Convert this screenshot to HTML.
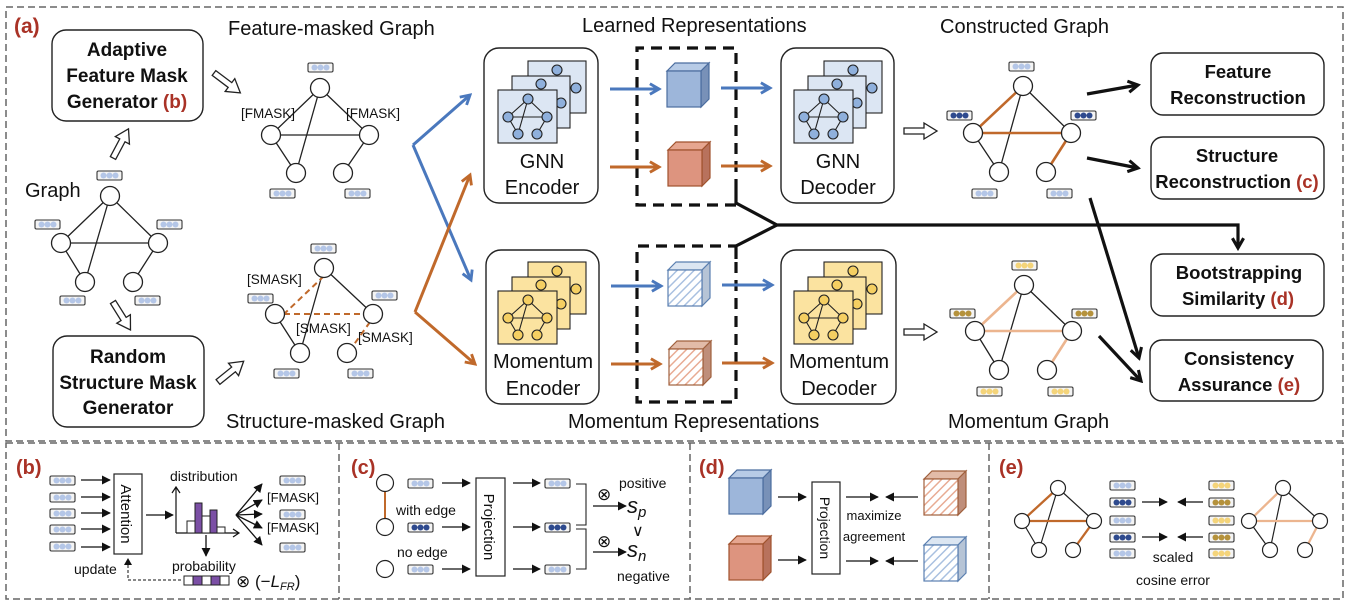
<!DOCTYPE html>
<html><head><meta charset="utf-8"><style>
html,body{margin:0;padding:0;background:#fff}
svg{display:block}
text{font-family:"Liberation Sans",sans-serif;fill:#111}
.b{font-weight:bold}
.r{fill:#a93226;font-weight:bold}
</style></head><body>
<svg width="1352" height="608" viewBox="0 0 1352 608" xmlns="http://www.w3.org/2000/svg">
<defs>
<marker id="mk" viewBox="0 0 10 10" refX="9" refY="5" markerWidth="9" markerHeight="9" markerUnits="userSpaceOnUse" orient="auto"><path d="M0,0L10,5L0,10z" fill="#111"/></marker>
<marker id="mT" viewBox="0 0 10 10" refX="8" refY="5" markerWidth="14" markerHeight="14" markerUnits="userSpaceOnUse" orient="auto"><path d="M1,1L8,5L1,9" fill="none" stroke="#111" stroke-width="2.2"/></marker>
<marker id="mB" viewBox="0 0 10 10" refX="8" refY="5" markerWidth="13" markerHeight="13" markerUnits="userSpaceOnUse" orient="auto"><path d="M1,1L8,5L1,9" fill="none" stroke="#4a78bd" stroke-width="2.2"/></marker>
<marker id="mO" viewBox="0 0 10 10" refX="8" refY="5" markerWidth="13" markerHeight="13" markerUnits="userSpaceOnUse" orient="auto"><path d="M1,1L8,5L1,9" fill="none" stroke="#c0692b" stroke-width="2.2"/></marker>
<pattern id="hB" width="6" height="6" patternUnits="userSpaceOnUse" patternTransform="rotate(45)"><rect width="6" height="6" fill="#fff"/><line x1="0" y1="0" x2="0" y2="6" stroke="#a9c0e0" stroke-width="3"/></pattern>
<pattern id="hO" width="6" height="6" patternUnits="userSpaceOnUse" patternTransform="rotate(45)"><rect width="6" height="6" fill="#fff"/><line x1="0" y1="0" x2="0" y2="6" stroke="#e8ab93" stroke-width="3"/></pattern>
<g id="fL"><rect width="25" height="9" rx="1.5" fill="#f4f4f4" stroke="#333" stroke-width="1.1"/><circle cx="6.5" cy="4.5" r="3" fill="#b4c6e7"/><circle cx="12.5" cy="4.5" r="3" fill="#b4c6e7"/><circle cx="18.5" cy="4.5" r="3" fill="#b4c6e7"/></g>
<g id="fD"><rect width="25" height="9" rx="1.5" fill="#f4f4f4" stroke="#333" stroke-width="1.1"/><circle cx="6.5" cy="4.5" r="3" fill="#2e4a8e"/><circle cx="12.5" cy="4.5" r="3" fill="#2e4a8e"/><circle cx="18.5" cy="4.5" r="3" fill="#2e4a8e"/></g>
<g id="fY"><rect width="25" height="9" rx="1.5" fill="#f4f4f4" stroke="#333" stroke-width="1.1"/><circle cx="6.5" cy="4.5" r="3" fill="#f4d47a"/><circle cx="12.5" cy="4.5" r="3" fill="#f4d47a"/><circle cx="18.5" cy="4.5" r="3" fill="#f4d47a"/></g>
<g id="fG"><rect width="25" height="9" rx="1.5" fill="#f4f4f4" stroke="#333" stroke-width="1.1"/><circle cx="6.5" cy="4.5" r="3" fill="#b5923c"/><circle cx="12.5" cy="4.5" r="3" fill="#b5923c"/><circle cx="18.5" cy="4.5" r="3" fill="#b5923c"/></g>
<g id="cB" stroke="#4b6d9f" stroke-width="1.2"><polygon points="0,0 8,-8 42,-8 34,0" fill="#b7cbe6"/><polygon points="34,0 42,-8 42,28 34,36" fill="#7891b8"/><rect width="34" height="36" fill="#9db6da"/></g>
<g id="cO" stroke="#a0522d" stroke-width="1.2"><polygon points="0,0 8,-8 42,-8 34,0" fill="#e6a690"/><polygon points="34,0 42,-8 42,28 34,36" fill="#b8725d"/><rect width="34" height="36" fill="#dd947f"/></g>
<g id="cBH" stroke="#5a7fb0" stroke-width="1.2"><polygon points="0,0 8,-8 42,-8 34,0" fill="#dce6f2"/><polygon points="34,0 42,-8 42,28 34,36" fill="#b6c4d6"/><rect width="34" height="36" fill="url(#hB)"/></g>
<g id="cOH" stroke="#a0603d" stroke-width="1.2"><polygon points="0,0 8,-8 42,-8 34,0" fill="#e2bba8"/><polygon points="34,0 42,-8 42,28 34,36" fill="#bf8e7a"/><rect width="34" height="36" fill="url(#hO)"/></g>
<g id="iB" stroke="#222" stroke-width="1.1">
 <rect x="30" y="-29" width="58" height="52" fill="#dce6f3"/>
 <circle cx="59" cy="-20" r="5" fill="#8fb0dc"/><circle cx="78" cy="-2" r="5" fill="#8fb0dc"/>
 <rect x="14" y="-14" width="58" height="52" fill="#dce6f3"/>
 <circle cx="43" cy="-6" r="5" fill="#8fb0dc"/><circle cx="63" cy="13" r="5" fill="#8fb0dc"/>
 <rect x="0" y="0" width="59" height="53" fill="#dce6f3"/>
 <path d="M30,9L10,27M30,9L49,27M10,27L49,27M30,9L20,44M10,27L20,44M49,27L39,44" fill="none"/>
 <g fill="#8fb0dc"><circle cx="30" cy="9" r="5"/><circle cx="10" cy="27" r="5"/><circle cx="49" cy="27" r="5"/><circle cx="20" cy="44" r="5"/><circle cx="39" cy="44" r="5"/></g>
</g>
<g id="iY" stroke="#222" stroke-width="1.1">
 <rect x="30" y="-29" width="58" height="52" fill="#fbe3a0"/>
 <circle cx="59" cy="-20" r="5" fill="#f5cf62"/><circle cx="78" cy="-2" r="5" fill="#f5cf62"/>
 <rect x="14" y="-14" width="58" height="52" fill="#fbe3a0"/>
 <circle cx="43" cy="-6" r="5" fill="#f5cf62"/><circle cx="63" cy="13" r="5" fill="#f5cf62"/>
 <rect x="0" y="0" width="59" height="53" fill="#fbe3a0"/>
 <path d="M30,9L10,27M30,9L49,27M10,27L49,27M30,9L20,44M10,27L20,44M49,27L39,44" fill="none"/>
 <g fill="#f5cf62"><circle cx="30" cy="9" r="5"/><circle cx="10" cy="27" r="5"/><circle cx="49" cy="27" r="5"/><circle cx="20" cy="44" r="5"/><circle cx="39" cy="44" r="5"/></g>
</g>
<path id="ha" d="M0,-3L20,-3L20,-8L33,0L20,8L20,3L0,3z" fill="#fff" stroke="#222" stroke-width="1.3"/>
</defs>

<g fill="none" stroke="#666" stroke-width="1.5" stroke-dasharray="7,4">
<rect x="6" y="7" width="1337" height="434"/>
<rect x="6" y="443" width="1337" height="156"/>
<line x1="339" y1="443" x2="339" y2="599"/>
<line x1="690" y1="443" x2="690" y2="599"/>
<line x1="989" y1="443" x2="989" y2="599"/>
</g>

<text x="14" y="33" class="r" font-size="21">(a)</text>

<rect x="52" y="30" width="151" height="91" rx="14" fill="#fff" stroke="#222" stroke-width="1.4"/>
<g font-size="19" text-anchor="middle"><text x="127" y="56" class="b">Adaptive</text><text x="127" y="82" class="b">Feature Mask</text><text x="127" y="108" class="b">Generator <tspan fill="#a93226">(b)</tspan></text></g>
<rect x="53" y="336" width="151" height="91" rx="14" fill="#fff" stroke="#222" stroke-width="1.4"/>
<g font-size="19" text-anchor="middle"><text x="128" y="363" class="b">Random</text><text x="128" y="389" class="b">Structure Mask</text><text x="128" y="414" class="b">Generator</text></g>

<use href="#ha" transform="translate(113,158) rotate(-62)"/>
<use href="#ha" transform="translate(113,302) rotate(58)"/>
<use href="#ha" transform="translate(214,73) rotate(37)"/>
<use href="#ha" transform="translate(218,382) rotate(-39)"/>
<use href="#ha" transform="translate(904,131)"/>
<use href="#ha" transform="translate(904,332)"/>

<text x="25" y="197" font-size="20">Graph</text>
<g stroke="#222" stroke-width="1.3" fill="none"><path d="M110,196L61,243M110,196L158,243M61,243L158,243M110,196L85,282M61,243L85,282M158,243L133,282"/></g>
<g fill="#fff" stroke="#222" stroke-width="1.3"><circle cx="110" cy="196" r="9.5"/><circle cx="61" cy="243" r="9.5"/><circle cx="158" cy="243" r="9.5"/><circle cx="85" cy="282" r="9.5"/><circle cx="133" cy="282" r="9.5"/></g>
<use href="#fL" x="97" y="171"/><use href="#fL" x="35" y="220"/><use href="#fL" x="157" y="220"/><use href="#fL" x="60" y="296"/><use href="#fL" x="135" y="296"/>

<text x="228" y="35" font-size="20">Feature-masked Graph</text>
<g stroke="#222" stroke-width="1.3" fill="none"><path d="M320,88L271,135M320,88L369,135M271,135L369,135M320,88L296,173M271,135L296,173M369,135L343,173"/></g>
<g fill="#fff" stroke="#222" stroke-width="1.3"><circle cx="320" cy="88" r="9.5"/><circle cx="271" cy="135" r="9.5"/><circle cx="369" cy="135" r="9.5"/><circle cx="296" cy="173" r="9.5"/><circle cx="343" cy="173" r="9.5"/></g>
<use href="#fL" x="308" y="63"/><use href="#fL" x="270" y="189"/><use href="#fL" x="345" y="189"/>
<text x="241" y="118" font-size="13.5">[FMASK]</text><text x="346" y="118" font-size="13.5">[FMASK]</text>

<g stroke="#222" stroke-width="1.3" fill="none"><path d="M324,268L300,353M324,268L373,314M275,314L300,353"/></g>
<g stroke="#c0692b" stroke-width="2" stroke-dasharray="6,4" fill="none"><path d="M324,276L284,314M284,314L364,314M370,322L350,350"/></g>
<g fill="#fff" stroke="#222" stroke-width="1.3"><circle cx="324" cy="268" r="9.5"/><circle cx="275" cy="314" r="9.5"/><circle cx="373" cy="314" r="9.5"/><circle cx="300" cy="353" r="9.5"/><circle cx="347" cy="353" r="9.5"/></g>
<use href="#fL" x="311" y="244"/><use href="#fL" x="248" y="294"/><use href="#fL" x="372" y="291"/><use href="#fL" x="274" y="369"/><use href="#fL" x="348" y="369"/>
<text x="247" y="284" font-size="13.5">[SMASK]</text><text x="296" y="333" font-size="13.5">[SMASK]</text><text x="358" y="342" font-size="13.5">[SMASK]</text>
<text x="226" y="428" font-size="20">Structure-masked Graph</text>

<g fill="none" stroke-width="3">
<path d="M413,145L471,280" stroke="#4a78bd" marker-end="url(#mB)"/>
<path d="M413,145L470,95" stroke="#4a78bd" marker-end="url(#mB)"/>
<path d="M415,312L475,364" stroke="#c0692b" marker-end="url(#mO)"/>
<path d="M415,312L470,175" stroke="#c0692b" marker-end="url(#mO)"/>
</g>

<rect x="484" y="48" width="114" height="155" rx="15" fill="#fff" stroke="#222" stroke-width="1.4"/>
<rect x="486" y="250" width="113" height="154" rx="15" fill="#fff" stroke="#222" stroke-width="1.4"/>
<rect x="781" y="48" width="113" height="155" rx="15" fill="#fff" stroke="#222" stroke-width="1.4"/>
<rect x="781" y="250" width="115" height="154" rx="15" fill="#fff" stroke="#222" stroke-width="1.4"/>
<use href="#iB" x="498" y="90"/><use href="#iB" x="794" y="90"/>
<use href="#iY" x="498" y="291"/><use href="#iY" x="794" y="291"/>
<g font-size="20" text-anchor="middle">
<text x="542" y="168">GNN</text><text x="542" y="194">Encoder</text>
<text x="543" y="368">Momentum</text><text x="543" y="395">Encoder</text>
<text x="838" y="168">GNN</text><text x="838" y="194">Decoder</text>
<text x="839" y="368">Momentum</text><text x="839" y="395">Decoder</text>
</g>

<text x="582" y="32" font-size="20">Learned Representations</text>
<text x="568" y="428" font-size="20">Momentum Representations</text>

<g fill="none" stroke="#111" stroke-width="3.2">
<path d="M736,190L736,48L637,48L637,205L736,205" stroke-dasharray="11,7"/>
<path d="M736,262L736,402L637,402L637,246L736,246" stroke-dasharray="11,7"/>
<path d="M736,190L736,203L777,225L1238,225L1238,248" marker-end="url(#mT)"/>
<path d="M736,259L736,246L777,225"/>
</g>

<use href="#cB" x="667" y="71"/><use href="#cO" x="668" y="150"/>
<use href="#cBH" x="668" y="270"/><use href="#cOH" x="669" y="349"/>
<g fill="none" stroke-width="3">
<path d="M610,89L659,89" stroke="#4a78bd" marker-end="url(#mB)"/>
<path d="M721,88L770,88" stroke="#4a78bd" marker-end="url(#mB)"/>
<path d="M610,167L659,167" stroke="#c0692b" marker-end="url(#mO)"/>
<path d="M721,166L770,166" stroke="#c0692b" marker-end="url(#mO)"/>
<path d="M611,286L661,286" stroke="#4a78bd" marker-end="url(#mB)"/>
<path d="M722,285L772,285" stroke="#4a78bd" marker-end="url(#mB)"/>
<path d="M611,364L660,364" stroke="#c0692b" marker-end="url(#mO)"/>
<path d="M722,363L772,363" stroke="#c0692b" marker-end="url(#mO)"/>
</g>

<text x="940" y="33" font-size="20">Constructed Graph</text>
<g fill="none" stroke-width="1.3" stroke="#222"><path d="M1023,86L1071,133M1023,86L999,172M973,133L999,172"/></g>
<g fill="none" stroke-width="2.6" stroke="#c0692b"><path d="M1023,86L973,133M973,133L1071,133M1071,133L1046,172"/></g>
<g fill="#fff" stroke="#222" stroke-width="1.3"><circle cx="1023" cy="86" r="9.5"/><circle cx="973" cy="133" r="9.5"/><circle cx="1071" cy="133" r="9.5"/><circle cx="999" cy="172" r="9.5"/><circle cx="1046" cy="172" r="9.5"/></g>
<use href="#fL" x="1009" y="62"/><use href="#fD" x="947" y="111"/><use href="#fD" x="1071" y="111"/><use href="#fL" x="972" y="189"/><use href="#fL" x="1047" y="189"/>

<g fill="none" stroke-width="1.3" stroke="#222"><path d="M1024,285L1072,331M1024,285L999,370M975,331L999,370"/></g>
<g fill="none" stroke-width="2.6" stroke="#ecb58f"><path d="M1024,285L975,331M975,331L1072,331M1072,331L1047,370"/></g>
<g fill="#fff" stroke="#222" stroke-width="1.3"><circle cx="1024" cy="285" r="9.5"/><circle cx="975" cy="331" r="9.5"/><circle cx="1072" cy="331" r="9.5"/><circle cx="999" cy="370" r="9.5"/><circle cx="1047" cy="370" r="9.5"/></g>
<use href="#fY" x="1012" y="261"/><use href="#fG" x="950" y="309"/><use href="#fG" x="1072" y="309"/><use href="#fY" x="977" y="387"/><use href="#fY" x="1048" y="387"/>
<text x="948" y="428" font-size="20">Momentum Graph</text>

<g fill="none" stroke="#111" stroke-width="3.2" marker-end="url(#mT)">
<path d="M1087,94L1138,85"/><path d="M1087,158L1138,168"/><path d="M1090,198L1139,358"/><path d="M1099,336L1141,381"/>
</g>

<g fill="#fff" stroke="#222" stroke-width="1.4">
<rect x="1151" y="53" width="173" height="62" rx="12"/>
<rect x="1151" y="137" width="173" height="62" rx="12"/>
<rect x="1151" y="254" width="173" height="62" rx="12"/>
<rect x="1150" y="340" width="173" height="61" rx="12"/>
</g>
<g font-size="18.5" text-anchor="middle">
<text x="1238" y="78" class="b">Feature</text><text x="1238" y="104" class="b">Reconstruction</text>
<text x="1237" y="162" class="b">Structure</text><text x="1237" y="188" class="b">Reconstruction <tspan fill="#a93226">(c)</tspan></text>
<text x="1239" y="279" class="b">Bootstrapping</text><text x="1238" y="305" class="b">Similarity <tspan fill="#a93226">(d)</tspan></text>
<text x="1239" y="365" class="b">Consistency</text><text x="1239" y="391" class="b">Assurance <tspan fill="#a93226">(e)</tspan></text>
</g>

<text x="16" y="474" class="r" font-size="20">(b)</text>
<use href="#fL" x="50" y="476"/><use href="#fL" x="50" y="493"/><use href="#fL" x="50" y="509"/><use href="#fL" x="50" y="525"/><use href="#fL" x="50" y="542"/>
<g stroke="#111" stroke-width="1.3" marker-end="url(#mk)"><path d="M81,480L110,480"/><path d="M81,497L110,497"/><path d="M81,513L110,513"/><path d="M81,529L110,529"/><path d="M81,547L110,547"/><path d="M146,515L173,515"/><path d="M206,535L206,556"/>
<path d="M236,515L262,484"/><path d="M236,515L262,500"/><path d="M236,515L262,514"/><path d="M236,515L262,528"/><path d="M236,515L262,545"/></g>
<rect x="114" y="474" width="28" height="80" fill="#fff" stroke="#222" stroke-width="1.2"/>
<text transform="translate(121,514) rotate(90)" text-anchor="middle" font-size="15">Attention</text>
<text x="170" y="481" font-size="14">distribution</text>
<g fill="none" stroke="#111" stroke-width="1.2"><path d="M176,533L176,488M172,493L176,487L180,493M176,533L238,533M233,529L239,533L233,537"/></g>
<g stroke="#222" stroke-width="1"><rect x="187" y="521" width="8" height="12" fill="#fff"/><rect x="195" y="503" width="7" height="30" fill="#7b4fa5"/><rect x="202" y="516" width="8" height="17" fill="#fff"/><rect x="210" y="510" width="7" height="23" fill="#7b4fa5"/><rect x="217" y="527" width="8" height="6" fill="#fff"/></g>
<text x="172" y="571" font-size="14">probability</text>
<g stroke="#222" stroke-width="1"><rect x="184" y="576" width="9" height="9" fill="#fff"/><rect x="193" y="576" width="9" height="9" fill="#7b4fa5"/><rect x="202" y="576" width="9" height="9" fill="#fff"/><rect x="211" y="576" width="9" height="9" fill="#7b4fa5"/><rect x="220" y="576" width="9" height="9" fill="#fff"/></g>
<text x="236" y="587" font-size="17" font-family="Liberation Serif">⊗ (−<tspan font-style="italic">L</tspan><tspan font-style="italic" font-size="11" dy="3">FR</tspan><tspan dy="-3">)</tspan></text>
<path d="M181,580L128,580L128,563" fill="none" stroke="#111" stroke-width="1" stroke-dasharray="3,2"/>
<path d="M124,565L128,558L132,565z" fill="#111"/>
<text x="74" y="574" font-size="14">update</text>
<use href="#fL" x="280" y="476"/><use href="#fL" x="280" y="510"/><use href="#fL" x="280" y="543"/>
<text x="267" y="502" font-size="13">[FMASK]</text><text x="267" y="532" font-size="13">[FMASK]</text>

<text x="351" y="474" class="r" font-size="20">(c)</text>
<line x1="385" y1="492" x2="385" y2="518" stroke="#c0692b" stroke-width="2"/>
<g fill="#fff" stroke="#222" stroke-width="1.2"><circle cx="385" cy="483" r="8.5"/><circle cx="385" cy="527" r="8.5"/><circle cx="385" cy="569" r="8.5"/></g>
<use href="#fL" x="408" y="479"/><use href="#fD" x="408" y="523"/><use href="#fL" x="408" y="565"/>
<use href="#fL" x="545" y="479"/><use href="#fD" x="545" y="523"/><use href="#fL" x="545" y="565"/>
<text x="396" y="515" font-size="14">with edge</text><text x="397" y="557" font-size="14">no edge</text>
<rect x="476" y="478" width="29" height="98" fill="#fff" stroke="#222" stroke-width="1.2"/>
<text transform="translate(484,527) rotate(90)" text-anchor="middle" font-size="15">Projection</text>
<g stroke="#111" stroke-width="1.3" marker-end="url(#mk)"><path d="M442,483L470,483"/><path d="M442,527L470,527"/><path d="M442,569L470,569"/><path d="M513,483L540,483"/><path d="M513,527L540,527"/><path d="M513,569L540,569"/><path d="M593,506L626,506"/><path d="M593,552L626,552"/></g>
<g fill="none" stroke="#222" stroke-width="1.1"><path d="M576,484L586,484L586,525L576,525"/><path d="M576,529L586,529L586,569L576,569"/></g>
<text x="597" y="500" font-size="17" font-family="Liberation Serif">⊗</text><text x="597" y="547" font-size="17" font-family="Liberation Serif">⊗</text>
<text x="619" y="488" font-size="14">positive</text><text x="617" y="581" font-size="14">negative</text>
<text x="627" y="513" font-size="22" font-family="Liberation Serif" font-style="italic">s<tspan font-size="15" dy="4">p</tspan></text>
<text x="632" y="536" font-size="16">∨</text>
<text x="627" y="557" font-size="22" font-family="Liberation Serif" font-style="italic">s<tspan font-size="15" dy="4">n</tspan></text>

<text x="699" y="474" class="r" font-size="20">(d)</text>
<use href="#cB" x="729" y="478"/><use href="#cO" x="729" y="544"/>
<use href="#cOH" x="924" y="479"/><use href="#cBH" x="924" y="545"/>
<rect x="812" y="482" width="28" height="92" fill="#fff" stroke="#222" stroke-width="1.2"/>
<text transform="translate(820,528) rotate(90)" text-anchor="middle" font-size="14">Projection</text>
<g stroke="#111" stroke-width="1.3" marker-end="url(#mk)"><path d="M846,497L878,497"/><path d="M918,497L886,497"/><path d="M846,561L878,561"/><path d="M918,561L886,561"/><path d="M778,497L806,497"/><path d="M778,560L806,560"/></g>
<text x="874" y="520" font-size="13" text-anchor="middle">maximize</text><text x="874" y="541" font-size="13" text-anchor="middle">agreement</text>

<text x="999" y="474" class="r" font-size="20">(e)</text>
<g fill="none" stroke-width="1.2" stroke="#222"><path d="M1058,488L1094,521M1058,488L1039,550M1022,521L1039,550"/><path d="M1283,488L1320,521M1283,488L1270,550M1249,521L1270,550"/></g>
<g fill="none" stroke-width="2.3" stroke="#c0692b"><path d="M1058,488L1022,521L1094,521L1073,550"/></g>
<g fill="none" stroke-width="2.3" stroke="#ecb58f"><path d="M1283,488L1249,521L1320,521L1305,550"/></g>
<g fill="#fff" stroke="#222" stroke-width="1.2"><circle cx="1058" cy="488" r="7.5"/><circle cx="1022" cy="521" r="7.5"/><circle cx="1094" cy="521" r="7.5"/><circle cx="1039" cy="550" r="7.5"/><circle cx="1073" cy="550" r="7.5"/>
<circle cx="1283" cy="488" r="7.5"/><circle cx="1249" cy="521" r="7.5"/><circle cx="1320" cy="521" r="7.5"/><circle cx="1270" cy="550" r="7.5"/><circle cx="1305" cy="550" r="7.5"/></g>
<use href="#fL" x="1110" y="481"/><use href="#fD" x="1110" y="498"/><use href="#fL" x="1110" y="516"/><use href="#fD" x="1110" y="533"/><use href="#fL" x="1110" y="549"/>
<use href="#fY" x="1209" y="481"/><use href="#fG" x="1209" y="498"/><use href="#fY" x="1209" y="516"/><use href="#fG" x="1209" y="533"/><use href="#fY" x="1209" y="549"/>
<g stroke="#111" stroke-width="1.3" marker-end="url(#mk)"><path d="M1142,502L1167,502"/><path d="M1203,502L1178,502"/><path d="M1142,537L1167,537"/><path d="M1203,537L1178,537"/></g>
<text x="1173" y="562" font-size="14" text-anchor="middle">scaled</text><text x="1173" y="585" font-size="14" text-anchor="middle">cosine error</text>
</svg>
</body></html>
